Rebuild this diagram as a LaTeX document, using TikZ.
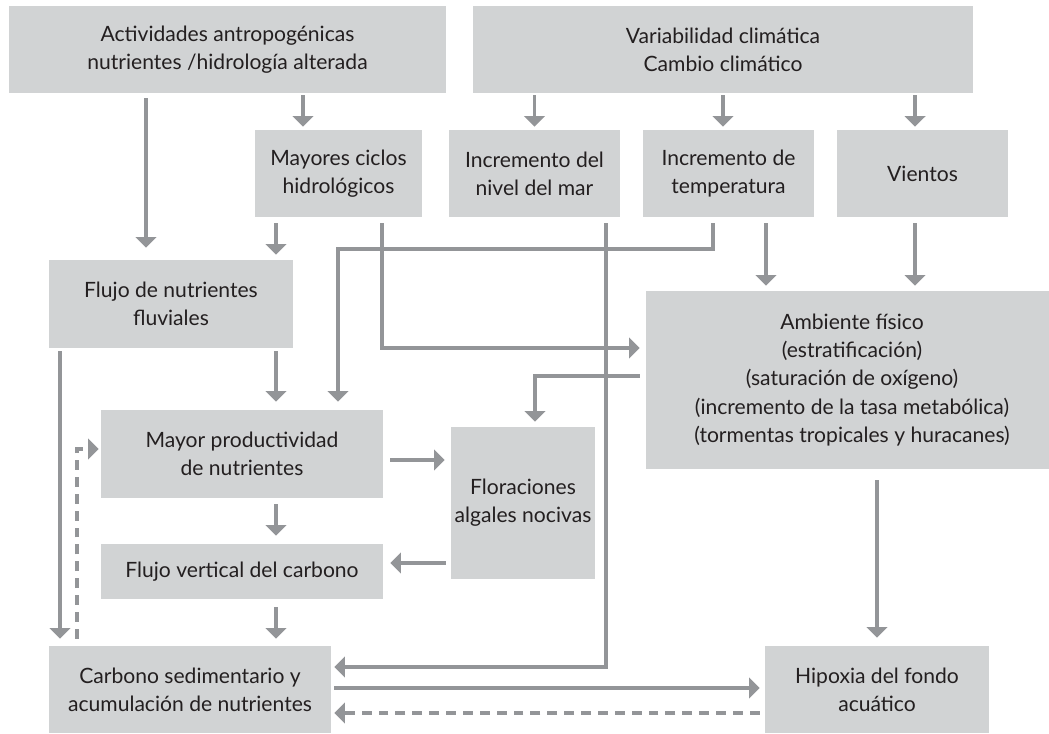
\documentclass[tikz,border=0pt]{standalone}
\usepackage{fontspec}
\setmainfont{Lato}
\usetikzlibrary{arrows.meta}

\definecolor{boxgray}{RGB}{209,211,212}
\definecolor{linegray}{RGB}{147,149,152}
\definecolor{textblack}{RGB}{35,31,32}

% one pixel of the layout grid
\def\pxu{0.025cm}

\begin{document}
\begin{tikzpicture}[
    x=0.025cm, y=-0.025cm,
    box/.style={fill=boxgray, text=textblack, inner sep=0pt,
                align=center, font=\fontsize{15}{20}\selectfont},
    sized/.style 2 args={minimum width=#1*\pxu, minimum height=#2*\pxu},
    link/.style={draw=linegray, line width=2.3pt},
    arr/.style={link, -{Triangle[width=14.5pt,length=7.5pt]}},
    dasharr/.style={arr, dash pattern=on 7pt off 5pt}
]

\useasboundingbox (0,0) rectangle (1049,734);

% --- TOP ROW ---
\node[box, sized={437}{87}] (actv) at (227.5,49.5)
  {Actividades antropogénicas\\nutrientes /hidrología alterada};
\node[box, sized={500}{87}] (clima) at (723,49.5)
  {Variabilidad climática\\Cambio climático};

% --- SECOND ROW ---
\node[box, sized={167}{87}] (ciclos) at (338.5,173.5) {Mayores ciclos\\hidrológicos};
\node[box, sized={171}{87}] (nivel) at (534.5,173.5) {Incremento del\\nivel del mar};
\node[box, sized={171}{87}] (temp) at (728.5,173.5) {Incremento de\\temperatura};
\node[box, sized={171}{87}] (vientos) at (922.5,173.5) {Vientos};

% --- MIDDLE ---
\node[box, sized={244}{88}] (fluvial) at (171,304) {Flujo de nutrientes\\fluviales};
\node[box, sized={412}{178}] (ambiente) at (852,380)
  {Ambiente físico\\(estratificación)\\(saturación de oxígeno)\\(incremento de la tasa metabólica)\\(tormentas tropicales y huracanes)};
\node[box, sized={282}{88}] (prod) at (242,454) {Mayor productividad\\de nutrientes};
\node[box, sized={144}{152}] (flor) at (523,503) {Floraciones\\algales nocivas};
\node[box, sized={282}{55}] (vert) at (242,571.5) {Flujo vertical del carbono};

% --- BOTTOM ---
\node[box, sized={282}{87}] (carb) at (190,689.5)
  {Carbono sedimentario y\\acumulación de nutrientes};
\node[box, sized={224}{87}] (hipox) at (877,689.5) {Hipoxia del fondo\\acuático};

% --- TOP BOXES -> SECOND ROW ---
\draw[arr, shorten <=3.5pt, shorten >=8.5pt] (actv.south -| 146,0) -- (fluvial.north -| 146,0);
\draw[arr, shorten <=1.4pt, shorten >=2.1pt] (actv.south -| 303,0) -- (ciclos.north -| 303,0);
\draw[arr, shorten <=1.4pt, shorten >=2.1pt] (clima.south -| nivel.north) -- (nivel.north);
\draw[arr, shorten <=1.4pt, shorten >=2.1pt] (clima.south -| 723,0) -- (temp.north -| 723,0);
\draw[arr, shorten <=1.4pt, shorten >=2.1pt] (clima.south -| 915,0) -- (vientos.north -| 915,0);

% --- SECOND ROW -> BELOW ---
\draw[arr, shorten <=4.3pt, shorten >=3.6pt] (ciclos.south -| 276,0) -- (fluvial.north -| 276,0);
\draw[arr, shorten <=4.3pt, shorten >=4.3pt] (ciclos.south -| 382,0) |- (ambiente.west |- 0,348);
\draw[arr, shorten <=4.3pt, shorten >=5.7pt] (temp.south -| 713,0) |- (338,249) -- (prod.north -| 338,0);
\draw[arr, shorten <=4.3pt, shorten >=3.6pt] (temp.south -| 766,0) -- (ambiente.north -| 766,0);
\draw[arr, shorten <=4.3pt, shorten >=3.6pt] (vientos.south -| 915,0) -- (ambiente.north -| 915,0);
\draw[arr, shorten <=4.3pt, shorten >=2.1pt] (nivel.south -| 606,0) |- (carb.east |- 0,667);

% --- LEFT COLUMN ---
\draw[arr, shorten <=2.1pt, shorten >=5.7pt] (fluvial.south -| 276,0) -- (prod.north -| 276,0);
\draw[arr, shorten <=2.1pt, shorten >=5pt] (fluvial.south -| 60,0) -- (carb.north -| 60,0);
\draw[dasharr, shorten <=5pt, shorten >=1.4pt] (carb.north -| 77,0) |- (prod.west |- 0,449);
\draw[arr, shorten <=4.3pt, shorten >=5.7pt] (prod.south -| 276,0) -- (vert.north -| 276,0);
\draw[arr, shorten <=5.7pt, shorten >=5pt] (vert.south -| 276,0) -- (carb.north -| 276,0);

% --- FLORACIONES ---
\draw[arr, shorten <=4.3pt, shorten >=3.6pt] (ambiente.west |- 0,376) -| (flor.north -| 535,0);
\draw[arr, shorten <=5pt, shorten >=4.3pt] (prod.east |- 0,460) -- (flor.west |- 0,460);
\draw[arr, shorten <=3.6pt, shorten >=5pt] (flor.west |- 0,563) -- (vert.east |- 0,563);

% --- HIPOXIA ---
\draw[arr, shorten <=7.8pt, shorten >=5.7pt] (ambiente.south -| 877,0) -- (hipox.north);
\draw[arr, shorten <=2.1pt, shorten >=3.6pt] (carb.east |- 0,688) -- (hipox.west |- 0,688);
\draw[dasharr, shorten <=3.6pt, shorten >=2.1pt] (hipox.west |- 0,713) -- (carb.east |- 0,713);

\end{tikzpicture}
\end{document}
